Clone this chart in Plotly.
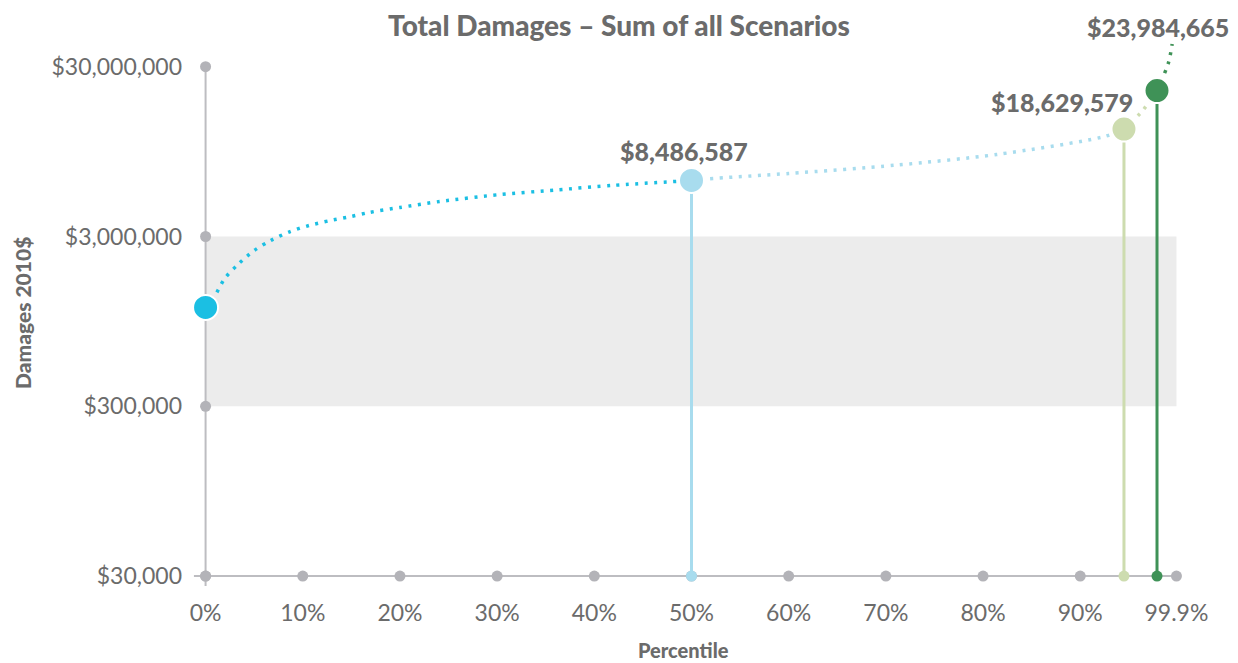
import math
import plotly.graph_objects as go

# ---------------- data ----------------
x_ticks = [0, 10, 20, 30, 40, 50, 60, 70, 80, 90, 99.9]
x_tick_labels = ["0%", "10%", "20%", "30%", "40%", "50%", "60%", "70%", "80%", "90%", "99.9%"]
y_ticks = [30000, 300000, 3000000, 30000000]
y_tick_labels = ["$30,000", "$300,000", "$3,000,000", "$30,000,000"]

# dotted curve, split in colour segments (percentile, damages)
seg1_pct = [0, 0.95, 2.0, 3.4, 5.0, 6.7, 8.65, 10.65, 12.7, 14.8, 16.8, 20, 24.1, 30.3, 36, 42, 50]
seg1_val = [1146000, 1343000, 1707000, 2072000, 2481000, 2842000, 3198000, 3483000, 3711000,
            3918000, 4153000, 4446000, 4823000, 5302000, 5636000, 6006000, 6411000]
seg2_pct = [50, 51.7, 60, 71.1, 81.4, 92.5, 94.5]
seg2_val = [6411000, 6560000, 7049000, 7900000, 9120000, 11640000, 12870000]
seg3_pct = [94.5, 96.35, 97.9]
seg3_val = [12870000, 16350000, 21700000]
seg4_pct = [97.9, 99.07, 99.46]
seg4_val = [21700000, 31500000, 40800000]

# highlighted points
key_pct = [0, 50, 94.5, 97.9]
key_val = [1146000, 6411000, 12870000, 21700000]
key_labels = ["", "$8,486,587", "$18,629,579", "$23,984,665"]

band_low, band_high = 300000, 3000000

# ---------------- style ----------------
C_CYAN = "#1bbfe3"
C_LBLUE = "#a8dcee"
C_LGREEN = "#cddcaf"
C_DGREEN = "#3f9257"
key_colors = [C_CYAN, C_LBLUE, C_LGREEN, C_DGREEN]
seg_colors = [C_CYAN, C_LBLUE, C_LGREEN, C_DGREEN]
GRAY_DOT = "#b3b3b8"
GRAY_LINE = "#bdbdc1"
TEXT = "#6b6b6b"
FONT = "Lato"
label_shift = [(0, 0), (-8, 29), (-62, 27), (1, 64)]

fig = go.Figure()

# grey band
fig.add_shape(type="rect", xref="x", yref="y", x0=x_ticks[0], x1=x_ticks[-1],
              y0=band_low, y1=band_high, fillcolor="#ececec", line_width=0, layer="below")

# axis lines
fig.add_trace(go.Scatter(x=[x_ticks[0], x_ticks[0]], y=[y_ticks[0] / 1.25, y_ticks[-1]],
                         mode="lines", line=dict(color=GRAY_LINE, width=2),
                         hoverinfo="skip", showlegend=False, cliponaxis=False))
fig.add_trace(go.Scatter(x=[x_ticks[0] - 1.2, x_ticks[-1]], y=[y_ticks[0], y_ticks[0]],
                         mode="lines", line=dict(color=GRAY_LINE, width=2),
                         hoverinfo="skip", showlegend=False, cliponaxis=False))

# tick dots
fig.add_trace(go.Scatter(x=[x_ticks[0]] * len(y_ticks), y=y_ticks, mode="markers",
                         marker=dict(color=GRAY_DOT, size=11), hoverinfo="skip",
                         showlegend=False, cliponaxis=False))
fig.add_trace(go.Scatter(x=x_ticks, y=[y_ticks[0]] * len(x_ticks), mode="markers",
                         marker=dict(color=GRAY_DOT, size=11), hoverinfo="skip",
                         showlegend=False, cliponaxis=False))

# dotted curve segments
for px, pv, col in zip([seg1_pct, seg2_pct, seg3_pct, seg4_pct],
                       [seg1_val, seg2_val, seg3_val, seg4_val], seg_colors):
    fig.add_trace(go.Scatter(x=px, y=pv, mode="lines",
                             line=dict(color=col, width=3.5, dash="3px,6.5px", shape="spline",
                                       smoothing=0.8),
                             hoverinfo="skip", showlegend=False, cliponaxis=False))

# stems + base dots
for i in range(1, len(key_pct)):
    fig.add_trace(go.Scatter(x=[key_pct[i], key_pct[i]], y=[y_ticks[0], key_val[i]], mode="lines",
                             line=dict(color=key_colors[i], width=3),
                             hoverinfo="skip", showlegend=False))
    fig.add_trace(go.Scatter(x=[key_pct[i]], y=[y_ticks[0]], mode="markers",
                             marker=dict(color=key_colors[i], size=11),
                             hoverinfo="skip", showlegend=False, cliponaxis=False))

# key markers
fig.add_trace(go.Scatter(x=key_pct, y=key_val, mode="markers",
                         marker=dict(color=key_colors, size=25, line=dict(color="white", width=2)),
                         showlegend=False, cliponaxis=False))

# value labels
for i in range(len(key_pct)):
    if not key_labels[i]:
        continue
    fig.add_annotation(x=key_pct[i], y=math.log10(key_val[i]), xref="x", yref="y",
                       text=key_labels[i], showarrow=False,
                       xshift=label_shift[i][0], yshift=label_shift[i][1],
                       font=dict(family=FONT, size=25, color=TEXT, weight=900))

# axis titles
fig.add_annotation(x=(683 - 191) / 1001, y=(586 - 650) / 566, xref="paper", yref="paper",
                   text="Percentile", showarrow=False, yanchor="middle",
                   font=dict(family=FONT, size=20, color=TEXT, weight=900))
fig.add_annotation(x=(22 - 191) / 1001, y=(586 - 313) / 566, xref="paper", yref="paper",
                   text="Damages 2010$", showarrow=False, textangle=-90,
                   xanchor="center", yanchor="middle",
                   font=dict(family=FONT, size=21, color=TEXT, weight=900))

fig.update_layout(
    width=1230, height=655,
    margin=dict(l=183, r=46, t=12, b=77),
    paper_bgcolor="white", plot_bgcolor="white",
    title=dict(text="Total Damages – Sum of all Scenarios", x=611 / 1230, xref="container",
               y=1 - 18 / 655, yref="container", xanchor="center", yanchor="middle",
               font=dict(family=FONT, size=28, color=TEXT, weight=900)),
    xaxis=dict(range=[-1.5, 101.5], tickvals=x_ticks, ticktext=x_tick_labels,
               showgrid=False, zeroline=False, showline=False, ticks="",
               ticklabelstandoff=11,
               tickfont=dict(family=FONT, size=23, color=TEXT)),
    yaxis=dict(type="log", range=[4.4188, 7.7521], tickvals=y_ticks, ticktext=y_tick_labels,
               showgrid=False, zeroline=False, showline=False, ticks="",
               ticklabelstandoff=8,
               tickfont=dict(family=FONT, size=23, color=TEXT)),
    hovermode=False,
)

fig.write_html("out.html")
